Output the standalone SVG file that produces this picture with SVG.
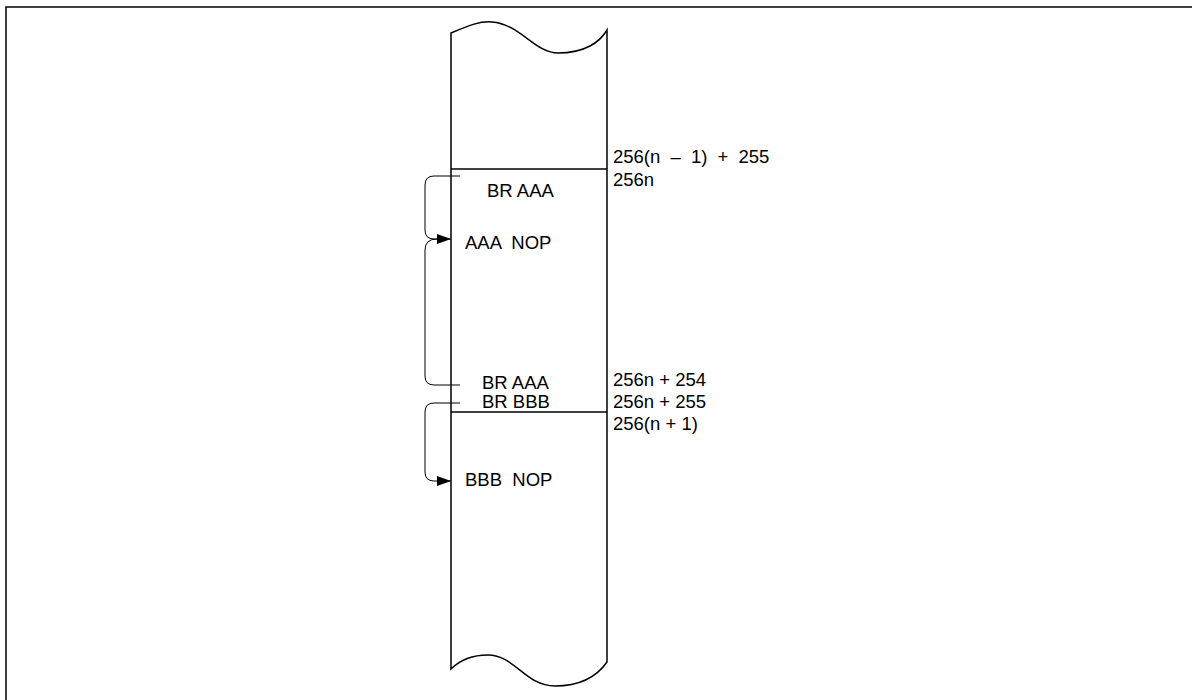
<svg xmlns="http://www.w3.org/2000/svg" width="1192" height="700" viewBox="0 0 1192 700">
<style>
.t{font-family:"Liberation Sans",Arial,sans-serif;font-size:18.5px;fill:#000;white-space:pre}
.c{fill:none;stroke:#000;stroke-width:1.5}
.k{fill:none;stroke:#000;stroke-width:1}
</style>
<defs>
<marker id="ah" markerWidth="14" markerHeight="10" refX="14" refY="5" orient="auto" markerUnits="userSpaceOnUse">
<path d="M0,0 L14,5 L0,10 Z" fill="#000"/>
</marker>
</defs>
<rect width="1192" height="700" fill="#fff"/>
<g id="frame">
<path d="M6,700 V7 H1192" class="c"/>
</g>
<g id="column">
<path d="M451,669 V33 C470,25 480,21 492,22 C520,24 535,53 558,53 C585,53 600,42 607,30 V662 C600,672 585,686 555,686 C525,686 515,655 488,655 C470,655 458,662 451,669 Z" class="c"/>
<line x1="451" y1="169" x2="607" y2="169" class="c"/>
<line x1="451" y1="412" x2="607" y2="412" class="c"/>
</g>
<g id="labels-left">
<text class="t" x="487" y="197">BR AAA</text>
<text class="t" x="465" y="249" xml:space="preserve">AAA  NOP</text>
<text class="t" x="482" y="389">BR AAA</text>
<text class="t" x="482" y="408">BR BBB</text>
<text class="t" x="465" y="486" xml:space="preserve">BBB  NOP</text>
</g>
<g id="labels-right">
<text class="t" x="613" y="163" style="word-spacing:5px">256(n – 1) + 255</text>
<text class="t" x="613" y="186">256n</text>
<text class="t" x="613" y="386">256n + 254</text>
<text class="t" x="613" y="408">256n + 255</text>
<text class="t" x="613" y="430">256(n + 1)</text>
</g>
<g id="connectors">
<path d="M460,176 H434 Q425,176 425,185 V230 Q425,239 434,239 H451" class="k" marker-end="url(#ah)"/>
<path d="M437,239 Q425,239 425,250 V376 Q425,385 434,385 H460" class="k"/>
<path d="M460,403 H434 Q425,403 425,412 V472 Q425,481 434,481 H451" class="k" marker-end="url(#ah)"/>
</g>
</svg>
